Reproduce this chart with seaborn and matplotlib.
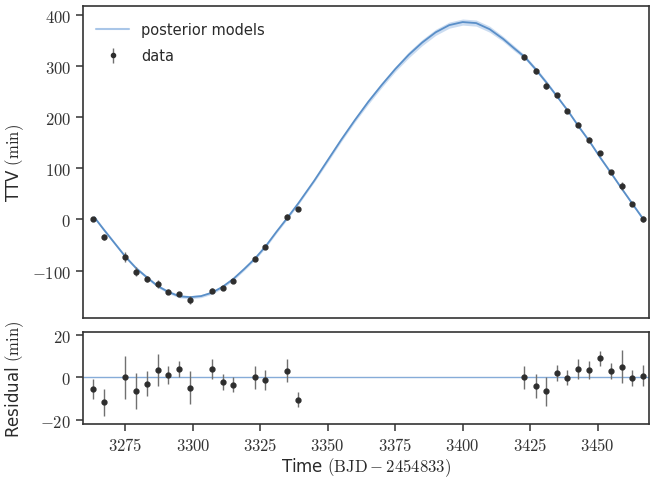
import numpy as np
import pandas as pd
import matplotlib
matplotlib.use("Agg")
import matplotlib.pyplot as plt
from matplotlib.lines import Line2D
from matplotlib.ticker import FuncFormatter
import seaborn as sns

# transit times (BJD - 2454833)
obs_time = [3263.1, 3266.9, 3274.9, 3279.0, 3282.9, 3286.9, 3290.9, 3294.9,
            3299.0, 3307.0, 3311.0, 3314.9, 3323.0, 3326.9, 3335.0, 3339.0,
            3422.9, 3427.0, 3430.9, 3434.9, 3438.8, 3442.8, 3446.9, 3450.9,
            3455.0, 3459.0, 3462.9, 3466.9]
obs_ttv = [0.8, -34.6, -73.0, -102.0, -116.5, -127.0, -141.0, -146.6,
           -157.0, -139.5, -134.0, -119.8, -76.6, -53.6, 5.3, 20.4,
           317.7, 290.2, 261.3, 242.4, 212.2, 185.5, 156.0, 129.7,
           93.7, 64.8, 29.5, 0.8]
obs_resid = [-5.6, -11.8, 0.0, -6.4, -3.0, 3.5, 1.1, 3.8,
             -4.9, 3.9, -2.2, -3.5, 0.0, -1.3, 3.1, -10.5,
             0.0, -3.9, -6.6, 2.0, -0.2, 3.9, 3.3, 8.9,
             3.0, 5.0, -0.3, 0.8]
obs_err = [4.6, 6.5, 10.0, 8.3, 5.7, 7.6, 4.4, 3.6,
           7.8, 4.6, 3.9, 3.5, 5.5, 4.7, 5.5, 3.5,
           5.4, 5.6, 6.7, 3.8, 3.5, 4.6, 4.3, 3.6,
           3.8, 7.9, 3.6, 5.0]

# posterior model curve (median) and spread
model_time = [3263.5, 3267.0, 3275.0, 3279.0, 3283.0, 3287.0, 3291.0, 3295.0,
              3299.0, 3303.0, 3307.0, 3311.0, 3315.0, 3319.0, 3323.0, 3327.0,
              3331.0, 3335.0, 3339.0, 3345.0, 3350.0, 3355.0, 3360.0, 3365.0,
              3370.0, 3375.0, 3380.0, 3385.0, 3390.0, 3395.0, 3400.0, 3405.0,
              3410.0, 3415.0, 3419.0, 3423.0, 3427.0, 3431.0, 3435.0, 3439.0,
              3443.0, 3447.0, 3451.0, 3455.0, 3459.0, 3463.0, 3467.0]
model_ttv = [4.0, -20.0, -73.0, -95.6, -113.5, -130.5, -142.0, -150.4,
             -152.0, -150.0, -143.4, -131.8, -116.3, -97.0, -76.6, -52.3,
             -24.0, 3.0, 31.0, 76.0, 116.0, 156.0, 194.0, 230.0,
             263.0, 294.0, 322.0, 346.0, 366.0, 380.0, 386.0, 384.0,
             372.0, 353.0, 335.0, 317.7, 294.0, 268.0, 240.4, 212.4,
             181.6, 152.7, 120.8, 90.7, 59.8, 29.8, 0.0]
model_spread = [3, 3, 3, 3, 3, 3, 3, 3,
                3, 3, 3, 3, 3, 3, 3, 3,
                3, 3, 3, 3, 4, 4, 4, 5,
                5, 5, 6, 6, 6, 6, 6, 6,
                6, 5, 5, 4, 4, 4, 3, 3,
                3, 3, 3, 3, 3, 3, 3]

obs = pd.DataFrame({"time": obs_time, "ttv": obs_ttv,
                    "resid": obs_resid, "err": obs_err})
model = pd.DataFrame({"time": model_time, "ttv": model_ttv,
                      "spread": model_spread})

sns.set_style("ticks")
plt.rcParams["font.family"] = ["DejaVu Sans"]
plt.rcParams["mathtext.fontset"] = "cm"
plt.rcParams["axes.edgecolor"] = "#333333"
plt.rcParams["axes.linewidth"] = 1.2
plt.rcParams["xtick.color"] = "#333333"
plt.rcParams["ytick.color"] = "#333333"
plt.rcParams["text.color"] = "#2a2a2a"
plt.rcParams["axes.labelcolor"] = "#2a2a2a"

line_col = "#5a8fc8"
band_col = "#a9c6e8"
pt_col = "#2e2e2e"
err_col = "#707070"

fig, (ax, axr) = plt.subplots(2, 1, figsize=(6.52, 4.81), dpi=100,
                              sharex=True,
                              gridspec_kw={"height_ratios": [312, 92]})
fig.subplots_adjust(left=0.127, right=0.996, top=0.985, bottom=0.116,
                    hspace=0.07)

# top panel: model and data
ax.fill_between(model["time"], model["ttv"] - model["spread"],
                model["ttv"] + model["spread"], color=band_col,
                alpha=0.6, lw=0, zorder=1)
sns.lineplot(data=model, x="time", y="ttv", ax=ax, color=line_col,
             lw=1.3, zorder=2)
ax.errorbar(obs["time"], obs["ttv"], yerr=obs["err"], fmt="o", ms=3.5,
            color=pt_col, ecolor=err_col, elinewidth=1, capsize=0,
            zorder=3)

ax.set_xlim(3259.2, 3469.2)
ax.set_ylim(-193, 417)
ax.set_yticks([-100, 0, 100, 200, 300, 400])
ax.set_ylabel(r"TTV $(\mathrm{min})$", fontsize=12)
ax.set_xlabel("")

eb = ax.errorbar([np.nan], [np.nan], yerr=[1], fmt="o", ms=3,
                 color=pt_col, ecolor=err_col, elinewidth=1)
model_handle = Line2D([], [], color=band_col, lw=1.5)
ax.legend([model_handle, eb], ["posterior models", "data"], loc="upper left",
          frameon=False, fontsize=10.5, handlelength=2.3, labelspacing=0.75,
          bbox_to_anchor=(0.0, 0.99))

# bottom panel: residuals
axr.axhline(0, color="#86acd8", lw=1, zorder=1)
axr.errorbar(obs["time"], obs["resid"], yerr=obs["err"], fmt="o", ms=3.5,
             color=pt_col, ecolor=err_col, elinewidth=1, capsize=0,
             zorder=3)
axr.set_ylim(-22, 21.1)
axr.set_yticks([-20, 0, 20])
axr.set_xticks([3275, 3300, 3325, 3350, 3375, 3400, 3425, 3450])
axr.set_ylabel(r"Residual $(\mathrm{min})$", fontsize=12)
axr.set_xlabel(r"Time $(\mathrm{BJD} - 2454833)$", fontsize=12, labelpad=1)

math_fmt = FuncFormatter(lambda v, pos: r"$%g$" % v)
for a in (ax, axr):
    a.yaxis.set_major_formatter(math_fmt)
    a.tick_params(labelsize=12, width=1.1, length=5)
    for s in a.spines.values():
        s.set_visible(True)
axr.xaxis.set_major_formatter(math_fmt)
ax.tick_params(axis="x", labelbottom=False, length=0)

fig.align_ylabels([ax, axr])
fig.savefig("out.png", dpi=100)
